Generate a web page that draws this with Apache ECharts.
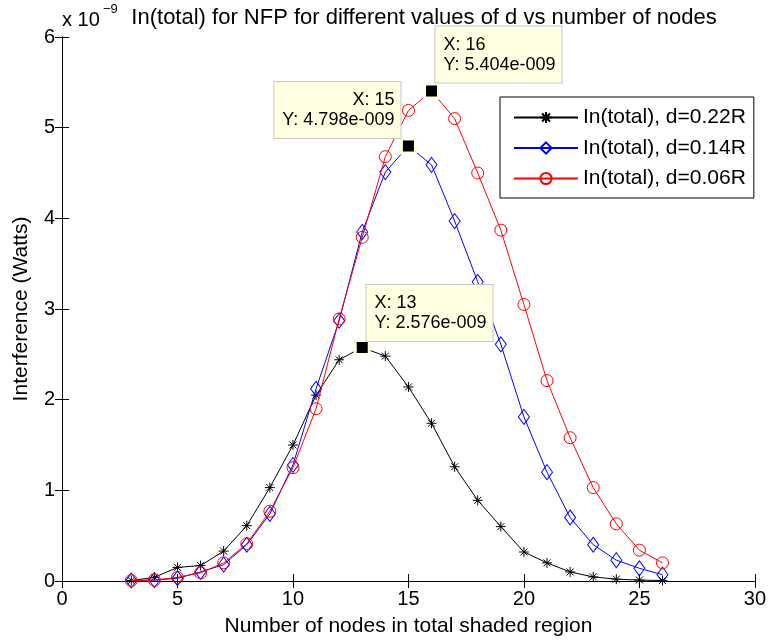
<!DOCTYPE html>
<html><head><meta charset="utf-8">
<script src="https://cdn.jsdelivr.net/npm/echarts@6/dist/echarts.min.js"></script>
<style>html,body{margin:0;padding:0;background:#fff}#c{width:769px;height:642px}</style>
</head><body><div id="c"></div><script>
// values in units of 1e-9 W
const nodes = [3,4,5,6,7,8,9,10,11,12,13,14,15,16,17,18,19,20,21,22,23,24,25,26];
const d022 = [0.005,0.04,0.15,0.17,0.33,0.61,1.03,1.50,2.05,2.44,2.576,2.48,2.14,1.74,1.26,0.89,0.60,0.32,0.20,0.10,0.045,0.02,0.01,0.005];
const d014 = [0.005,0.01,0.03,0.10,0.18,0.40,0.74,1.28,2.12,2.87,3.85,4.51,4.798,4.59,3.97,3.30,2.61,1.81,1.20,0.70,0.40,0.23,0.14,0.07];
const d006 = [0.005,0.01,0.04,0.09,0.20,0.41,0.77,1.25,1.90,2.89,3.79,4.68,5.19,5.404,5.10,4.50,3.87,3.05,2.21,1.58,1.03,0.63,0.34,0.20];
const seriesNames = ['In(total), d=0.22R','In(total), d=0.14R','In(total), d=0.06R'];
const tips = [
  {series:0, x:13, y:2.576, text:'X: 13\nY: 2.576e-009'},
  {series:1, x:15, y:4.798, text:'X: 15\nY: 4.798e-009'},
  {series:2, x:16, y:5.404, text:'X: 16\nY: 5.404e-009'}
];
const tipPos = [[12.7,-54,'left'],[0.5,-55.4,'right'],[12.4,-56,'left']];

const FONT = 'Liberation Sans, Arial, Helvetica, sans-serif';
const star = 'path://M5,0L5,10M0,5L10,5M1.5,1.5L8.5,8.5M1.5,8.5L8.5,1.5';
const colors = ['#000000','#0000ff','#ff0000'];
const symbols = [star,'diamond','circle'];
const sizes = [10,[11,15],12];
const datas = [d022,d014,d006];

function mkSeries(i){
  const tp = tips.filter(t=>t.series===i);
  return {
    name: seriesNames[i], type:'line', data: nodes.map((n,k)=>[n,datas[i][k]]),
    symbol: symbols[i], symbolSize: sizes[i], showAllSymbol:true,
    lineStyle:{color:colors[i], width:1},
    itemStyle:{color:'rgba(0,0,0,0)', borderColor:colors[i], borderWidth:1},
    color: colors[i],
    emphasis:{disabled:true}, animation:false, z: 2+i,
    markPoint: {
      symbol:'rect', symbolSize:14, animation:false,
      itemStyle:{color:'#000', borderColor:'#ffffe1', borderWidth:3},
      data: tp.map(t=>{
        const p = tipPos[i];
        return {coord:[t.x,t.y], value:t.text,
          label:{show:true, formatter:t.text, position:[p[0],p[1]], align:p[2], verticalAlign:'top',
            fontFamily:FONT, fontSize:18, lineHeight:20, color:'#000',
            backgroundColor:'#ffffe1', borderColor:'#c8c8c8', borderWidth:1, padding:[8,6,8,8]}};
      }),
      z: 10
    }
  };
}

const chart = echarts.init(document.getElementById('c'), null, {renderer:'canvas'});
chart.setOption({
  animation:false,
  backgroundColor:'#fff',
  title:[
    {text:'In(total) for NFP for different values of d vs number of nodes', left:424, textAlign:'center', top:7, padding:0,
      textStyle:{fontFamily:FONT, fontSize:22, fontWeight:'normal', color:'#000'}},
    {text:'x 10', left:62, top:10, padding:0, textStyle:{fontFamily:FONT, fontSize:20, fontWeight:'normal', color:'#000'}},
    {text:'\u22129', left:103, top:3, padding:0, textStyle:{fontFamily:FONT, fontSize:13, fontWeight:'normal', color:'#000'}}
  ],
  legend:{
    orient:'vertical', left:500, top:97, padding:[10,8,9,13], itemGap:9.5,
    itemWidth:64, itemHeight:14, backgroundColor:'#fff', borderColor:'#000', borderWidth:1, borderRadius:0,
    textStyle:{fontFamily:FONT, fontSize:21, color:'#000', lineHeight:20},
    data: seriesNames
  },
  grid:{left:62, right:14, top:37, bottom:58, containLabel:false},
  xAxis:[
    {type:'value', min:0, max:30, interval:5, position:'bottom',
      name:'Number of nodes in total shaded region', nameLocation:'middle', nameGap:35,
      nameTextStyle:{fontFamily:FONT, fontSize:21, color:'#000'},
      axisLine:{lineStyle:{color:'#000', width:1}}, axisTick:{inside:true, length:7, lineStyle:{color:'#000'}},
      axisLabel:{fontFamily:FONT, fontSize:20, color:'#000', margin:8}, splitLine:{show:false}},
    {type:'value', min:0, max:30, interval:5, position:'top',
      axisLine:{lineStyle:{color:'#000', width:1}}, axisTick:{inside:true, length:7, lineStyle:{color:'#000'}},
      axisLabel:{show:false}, splitLine:{show:false}}
  ],
  yAxis:[
    {type:'value', min:0, max:6, interval:1, position:'left',
      name:'Interference (Watts)', nameLocation:'middle', nameGap:30,
      nameTextStyle:{fontFamily:FONT, fontSize:21, color:'#000'},
      axisLine:{show:true, lineStyle:{color:'#000', width:1}}, axisTick:{show:true, inside:true, length:7, lineStyle:{color:'#000'}},
      axisLabel:{fontFamily:FONT, fontSize:20, color:'#000', margin:7, padding:[4,0,0,0]}, splitLine:{show:false}},
    {type:'value', min:0, max:6, interval:1, position:'right',
      axisLine:{show:true, lineStyle:{color:'#000', width:1}}, axisTick:{show:true, inside:true, length:7, lineStyle:{color:'#000'}},
      axisLabel:{show:false}, splitLine:{show:false}}
  ],
  series:[mkSeries(0), mkSeries(1), mkSeries(2)]
});
</script></body></html>
